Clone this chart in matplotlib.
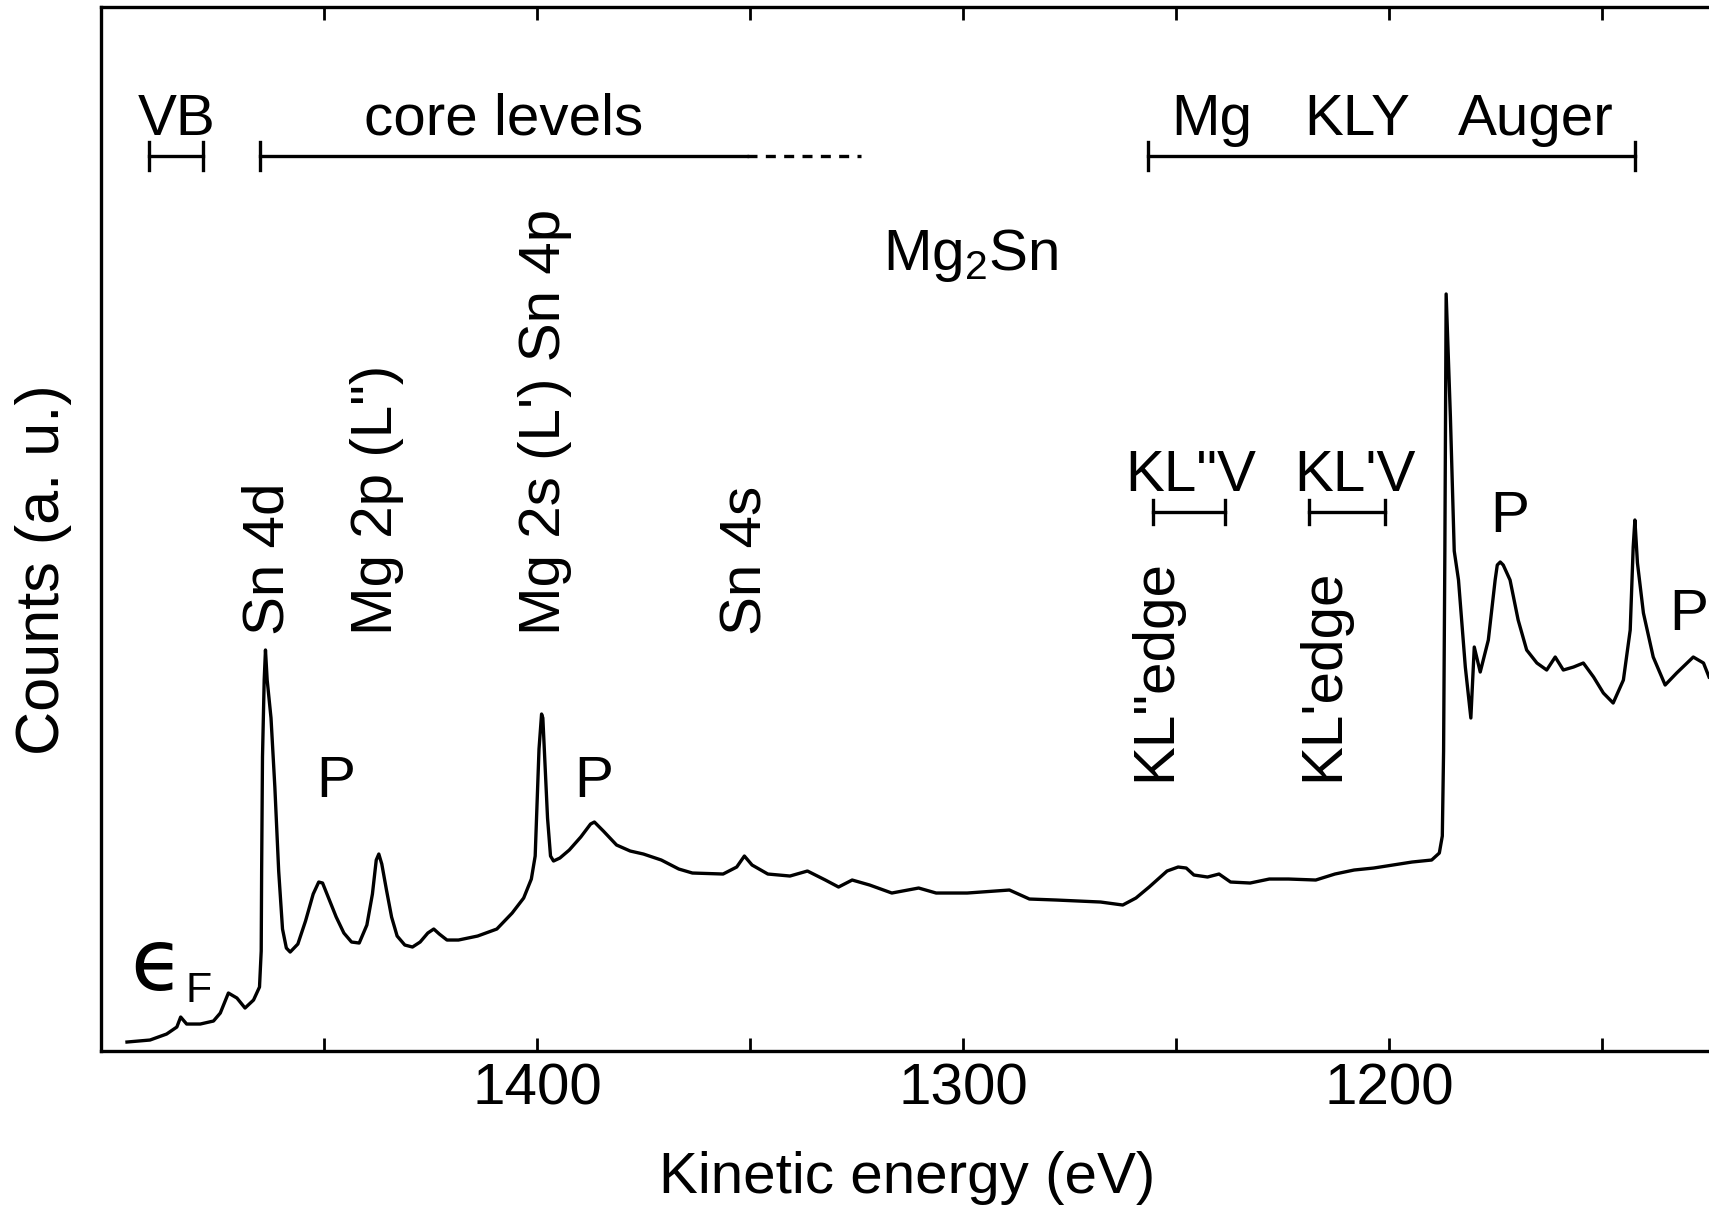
import matplotlib
matplotlib.use("Agg")
import matplotlib.pyplot as plt

plt.rcParams["font.family"] = ["Liberation Sans", "DejaVu Sans"]
plt.rcParams["mathtext.default"] = "regular"

# Mg2Sn survey spectrum: kinetic energy (eV) and counts (a. u.)
energy = [1496.2, 1490.8, 1486.9, 1484.5, 1483.6, 1482.2, 1479.0, 1475.9, 1474.3, 1472.4,
          1470.4, 1468.5, 1466.5, 1465.1, 1464.7, 1464.6, 1464.4, 1464.0, 1463.7, 1463.3,
          1462.4, 1461.5, 1460.6, 1459.7, 1458.8, 1457.9, 1456.1, 1454.3, 1452.5, 1451.2,
          1450.3, 1448.9, 1447.1, 1445.3, 1443.5, 1441.7, 1439.9, 1438.6, 1437.7, 1437.1,
          1436.4, 1435.3, 1434.1, 1432.8, 1431.0, 1429.2, 1427.4, 1425.6, 1424.2, 1422.9,
          1421.1, 1418.4, 1413.9, 1409.4, 1405.8, 1403.1, 1401.3, 1400.4, 1399.9, 1399.5,
          1398.9, 1398.6, 1398.1, 1397.5, 1396.8, 1396.1, 1394.6, 1392.4, 1389.7, 1387.4,
          1386.5, 1384.4, 1381.3, 1378.1, 1375.0, 1370.8, 1366.7, 1363.5, 1356.3, 1353.1,
          1351.3, 1349.5, 1345.8, 1340.6, 1336.5, 1332.3, 1329.2, 1326.0, 1321.9, 1316.7,
          1310.4, 1306.3, 1299.0, 1289.1, 1284.4, 1278.1, 1272.9, 1267.7, 1262.5, 1259.4,
          1256.3, 1252.1, 1249.5, 1247.6, 1245.8, 1242.6, 1239.9, 1237.2, 1232.6, 1228.1,
          1223.6, 1217.2, 1212.7, 1208.2, 1203.6, 1199.1, 1194.6, 1190.0, 1188.2, 1187.5,
          1187.2, 1186.9, 1186.6, 1185.6, 1184.7, 1183.7, 1182.1, 1180.8, 1180.0, 1178.6,
          1176.7, 1175.1, 1174.6, 1173.9, 1173.2, 1171.6, 1169.7, 1167.7, 1165.3, 1163.0,
          1161.0, 1159.1, 1156.7, 1154.4, 1152.0, 1149.7, 1147.4, 1145.0, 1143.4, 1142.7,
          1142.3, 1141.7, 1140.3, 1138.0, 1135.2, 1132.5, 1128.6, 1126.2, 1124.9]
counts = [9, 11, 17, 24, 34, 27, 27, 30, 38, 58,
          53, 43, 51, 64, 100, 180, 294, 371, 401, 371,
          333, 264, 180, 122, 103, 99, 107, 130, 157, 169,
          168, 153, 134, 118, 109, 108, 126, 157, 191, 197,
          187, 161, 134, 115, 106, 104, 109, 118, 122, 117,
          111, 111, 115, 122, 138, 153, 172, 195, 256, 302,
          337, 333, 287, 233, 195, 190, 193, 201, 214, 227,
          229, 220, 206, 200, 197, 191, 182, 178, 177, 184,
          195, 186, 177, 175, 180, 171, 164, 171, 166, 158,
          163, 158, 158, 161, 152, 151, 150, 149, 146, 153,
          164, 180, 184, 183, 176, 174, 177, 169, 168, 172,
          172, 171, 177, 181, 183, 186, 189, 191, 198, 215,
          300, 500, 757, 634, 500, 471, 384, 333, 404, 379,
          411, 471, 486, 489, 486, 471, 431, 401, 388, 381,
          394, 381, 384, 388, 374, 358, 348, 371, 421, 504,
          531, 488, 438, 394, 366, 378, 394, 388, 374]

major_ticks = [1400, 1300, 1200]
minor_ticks = [1450, 1350, 1250, 1150]

# vertical peak labels
peak_labels = ["Sn 4d", 'Mg 2p (L")', "Mg 2s (L') Sn 4p", "Sn 4s"]
peak_label_x = [1463.1, 1437.6, 1398.1, 1350.8]
edge_labels = ['KL"edge', "KL'edge"]
edge_label_x = [1254.9, 1215.5]

# plasmon satellites
plasmon_x = [1447.2, 1386.6, 1171.6, 1129.6]
plasmon_y = [254, 254, 519, 421]

# energy ranges marked with brackets: (start, end, height)
vb_range = (1491.0, 1478.4, 895)
core_range = (1465.1, 1350.8, 895)
core_dashed = (1350.8, 1323.9)
auger_range = (1256.5, 1142.2, 895)
klv2_range = (1255.3, 1238.5, 539)
klv1_range = (1218.9, 1200.9, 539)

FS = 42
LW = 2.4

fig = plt.figure(figsize=(17.09, 12.06), dpi=100)
ax = fig.add_axes([0.0591, 0.1285, 1.003, 0.8657])

ax.plot(energy, counts, color="black", lw=LW, solid_joinstyle="round")

ax.set_xlim(1502.3, 1100)
ax.set_ylim(0, 1044)
ax.set_yticks([])
ax.set_xticks(major_ticks)
ax.set_xticks(minor_ticks, minor=True)
ax.tick_params(axis="x", which="both", direction="in", top=True, length=9.5,
               width=2, labelsize=FS, pad=8)
for sp in ax.spines.values():
    sp.set_linewidth(2.4)


def bracket(x0, x1, y, left=True, right=True, cap=14):
    ax.plot([x0, x1], [y, y], color="black", lw=LW)
    if left:
        ax.plot([x0, x0], [y - cap, y + cap], color="black", lw=LW)
    if right:
        ax.plot([x1, x1], [y - cap, y + cap], color="black", lw=LW)


bracket(*vb_range)
bracket(*core_range, right=False)
ax.plot(core_dashed, [core_range[2]] * 2, color="black", lw=LW, ls=(0, (3, 2.5)))
bracket(*auger_range)
bracket(*klv2_range, cap=12)
bracket(*klv1_range, cap=12)

ax.text(1484.5, 916, "VB", fontsize=FS, ha="center", va="baseline")
ax.text(1407.9, 916, "core levels", fontsize=FS, ha="center", va="baseline")
ax.text(1241.6, 916, "Mg", fontsize=FS, ha="center", va="baseline")
ax.text(1207.4, 916, "KLY", fontsize=FS, ha="center", va="baseline")
ax.text(1165.5, 916, "Auger", fontsize=FS, ha="center", va="baseline")
ax.text(1298.3, 781, "Mg$_2$Sn", fontsize=FS, ha="center", va="baseline")

ax.text(1246.5, 560, 'KL"V', fontsize=FS, ha="center", va="baseline")
ax.text(1207.9, 560, "KL'V", fontsize=FS, ha="center", va="baseline")

for lab, x in zip(peak_labels, peak_label_x):
    ax.text(x, 416, lab, fontsize=FS, rotation=90, ha="center", va="bottom")
for lab, x in zip(edge_labels, edge_label_x):
    ax.text(x, 270, lab, fontsize=FS, rotation=90, ha="center", va="bottom")

for x, y in zip(plasmon_x, plasmon_y):
    ax.text(x, y, "P", fontsize=FS, ha="center", va="baseline")

# Fermi edge marker
ax.text(1489.3, 61, "\u03f5", fontsize=62, ha="center", va="baseline",
        family=["DejaVu Sans"])
ax.text(1479.4, 49, "F", fontsize=31, ha="center", va="baseline")

fig.text(44 / 1709, 1 - 570 / 1206, "Counts (a. u.)", fontsize=44,
         rotation=90, ha="center", va="center")
fig.text(907 / 1709, 1 - 1193 / 1206, "Kinetic energy (eV)", fontsize=FS,
         ha="center", va="baseline")

fig.savefig("out.png", dpi=100)
